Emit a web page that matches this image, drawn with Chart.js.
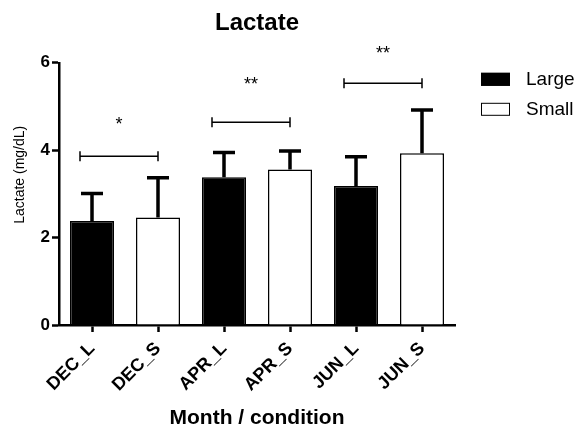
<!DOCTYPE html>
<html lang="en">
<head>
  <meta charset="UTF-8" />
  <title>Lactate</title>
  <script src="https://cdn.jsdelivr.net/npm/chart.js"></script>
  <style>
    html, body {
      margin: 0;
      padding: 0;
      background: #fff;
    }
    .chart-box {
      width: 581px;
      height: 429px;
    }
  </style>
</head>
<body>
  <div class="chart-box">
    <canvas id="lactateChart" width="581" height="429"></canvas>
  </div>

  <script>
    const categories = ['DEC_L', 'DEC_S', 'APR_L', 'APR_S', 'JUN_L', 'JUN_S'];
    const largeMeans = [2.38, null, 3.38, null, 3.18, null];
    const smallMeans = [null, 2.46, null, 3.56, null, 3.93];
    const largeSD = [0.63, null, 0.57, null, 0.67, null];
    const smallSD = [null, 0.91, null, 0.42, null, 0.99];
    const yTicks = [0, 2, 4, 6];
    const yTitle = 'Lactate (mg/dL)';

    // significance brackets: from bar, to bar, bracket height, star height, label
    const sigFrom = [0, 2, 4];
    const sigTo = [1, 3, 5];
    const sigLevel = [3.86, 4.64, 5.53];
    const sigStarLevel = [4.62, 5.53, 6.24];
    const sigText = ['*', '**', '**'];

    const FONT = '"Liberation Sans", Arial, sans-serif';

    const errorBars = {
      id: 'errorBars',
      afterDatasetsDraw(chart) {
        const ctx = chart.ctx;
        const y = chart.scales.y;
        ctx.save();
        ctx.strokeStyle = '#000';
        ctx.lineWidth = 3.5;
        chart.data.datasets.forEach((ds, di) => {
          const meta = chart.getDatasetMeta(di);
          ds.data.forEach((v, i) => {
            if (v == null) return;
            const bar = meta.data[i];
            const top = y.getPixelForValue(v + ds.errors[i]);
            const base = y.getPixelForValue(v);
            ctx.beginPath();
            ctx.moveTo(bar.x, base);
            ctx.lineTo(bar.x, top);
            ctx.moveTo(bar.x - 11, top);
            ctx.lineTo(bar.x + 11, top);
            ctx.stroke();
          });
        });
        ctx.restore();
      }
    };

    const brackets = {
      id: 'brackets',
      afterDatasetsDraw(chart) {
        const ctx = chart.ctx;
        const x = chart.scales.x;
        const y = chart.scales.y;
        ctx.save();
        ctx.strokeStyle = '#000';
        ctx.fillStyle = '#000';
        ctx.lineWidth = 1.5;
        ctx.font = '18px ' + FONT;
        ctx.textAlign = 'center';
        ctx.textBaseline = 'alphabetic';
        sigFrom.forEach((f, k) => {
          const x1 = x.getPixelForValue(f) - 12;
          const x2 = x.getPixelForValue(sigTo[k]);
          const yy = y.getPixelForValue(sigLevel[k]);
          ctx.beginPath();
          ctx.moveTo(x1, yy);
          ctx.lineTo(x2, yy);
          ctx.moveTo(x1, yy - 5);
          ctx.lineTo(x1, yy + 5);
          ctx.moveTo(x2, yy - 5);
          ctx.lineTo(x2, yy + 5);
          ctx.stroke();
          ctx.fillText(sigText[k], (x1 + x2) / 2, y.getPixelForValue(sigStarLevel[k]) + 7);
        });
        ctx.restore();
      }
    };

    const sideText = {
      id: 'sideText',
      afterDraw(chart) {
        const ctx = chart.ctx;
        const area = chart.chartArea;
        ctx.save();
        // legend on the right
        ctx.font = '19px ' + FONT;
        ctx.textBaseline = 'middle';
        ctx.textAlign = 'left';
        chart.data.datasets.forEach((ds, i) => {
          const bx = area.right + 26;
          const by = area.top + 10 + i * 30;
          ctx.fillStyle = ds.backgroundColor;
          ctx.fillRect(bx, by, 29, 13);
          ctx.strokeStyle = '#000';
          ctx.lineWidth = 1;
          ctx.strokeRect(bx + 0.5, by + 0.5, 28, 12);
          ctx.fillStyle = '#000';
          ctx.fillText(ds.label, bx + 45, by + 7);
        });
        // y axis title, sits a bit above the middle like the original
        ctx.font = '14px ' + FONT;
        ctx.textAlign = 'center';
        ctx.translate(20, area.top + 112);
        ctx.rotate(-Math.PI / 2);
        ctx.fillText(yTitle, 0, 0);
        ctx.restore();
      }
    };

    new Chart(document.getElementById('lactateChart'), {
      type: 'bar',
      data: {
        labels: categories,
        datasets: [
          {
            label: 'Large',
            data: largeMeans,
            errors: largeSD,
            backgroundColor: '#000',
            borderColor: '#000',
            borderWidth: 1.5
          },
          {
            label: 'Small',
            data: smallMeans,
            errors: smallSD,
            backgroundColor: '#fff',
            borderColor: '#000',
            borderWidth: 1.5
          }
        ]
      },
      options: {
        responsive: false,
        animation: false,
        grouped: false,
        categoryPercentage: 1,
        barPercentage: 0.667,
        layout: { padding: { right: 126, left: 0, top: 0, bottom: 0 } },
        plugins: {
          legend: { display: false },
          tooltip: { enabled: false },
          title: {
            display: true,
            text: 'Lactate',
            fullSize: false,
            color: '#000',
            font: { family: FONT, size: 24, weight: 'bold' },
            padding: { top: 9, bottom: 25 }
          }
        },
        scales: {
          x: {
            offset: true,
            grid: {
              offset: false,
              drawOnChartArea: false,
              tickLength: 7,
              tickWidth: 2.5,
              tickColor: '#000'
            },
            border: { display: true, color: '#000', width: 2.5 },
            ticks: {
              maxRotation: 45,
              minRotation: 45,
              color: '#000',
              padding: 6,
              font: { family: FONT, size: 18, weight: 'bold' }
            },
            title: {
              display: true,
              text: 'Month / condition',
              color: '#000',
              font: { family: FONT, size: 21, weight: 'bold', lineHeight: 1 },
              padding: { top: 4, bottom: 0 }
            },
            afterFit(scale) { scale.height = 104; }
          },
          y: {
            min: 0,
            max: 6,
            afterBuildTicks(scale) {
              scale.ticks = yTicks.map(v => ({ value: v }));
            },
            grid: {
              drawOnChartArea: false,
              tickLength: 7,
              tickWidth: 2.5,
              tickColor: '#000'
            },
            border: { display: true, color: '#000', width: 2.5 },
            ticks: {
              color: '#000',
              padding: 2,
              font: { family: FONT, size: 17, weight: 'bold' }
            },
            title: { display: false },
            afterFit(scale) { scale.width = 59; }
          }
        }
      },
      plugins: [errorBars, brackets, sideText]
    });
  </script>
</body>
</html>
